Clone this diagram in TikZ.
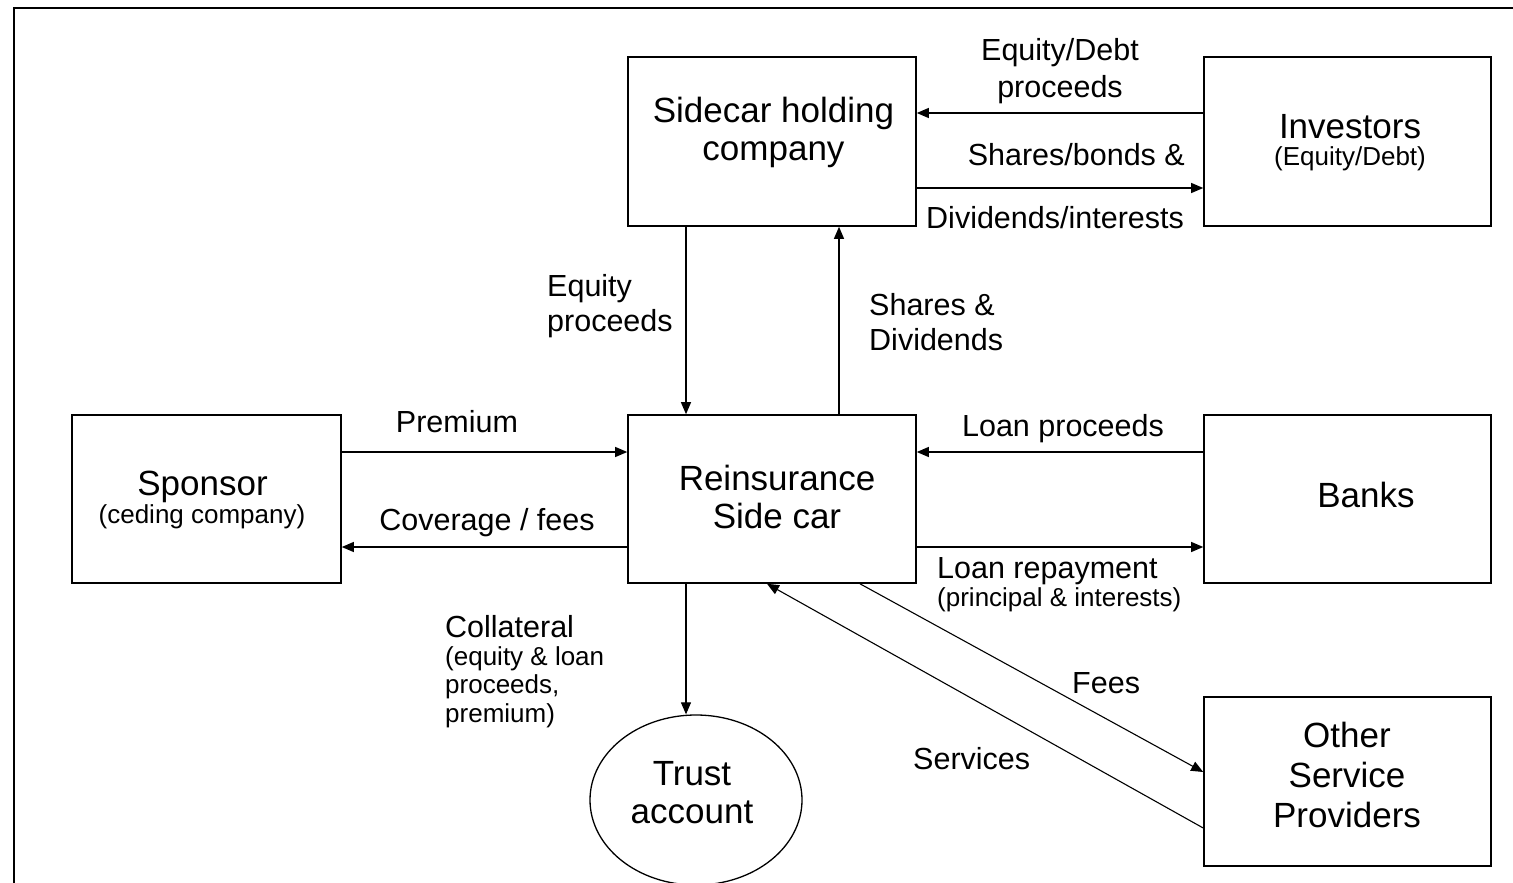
\documentclass[tikz,border=0pt]{standalone}
\usepackage{fontspec}
\setmainfont{Liberation Sans}
\usetikzlibrary{arrows.meta,shapes.geometric}
\newcommand\mylines[2]{\begin{tabular}[t]{@{}#1@{}}#2\end{tabular}}
\begin{document}
\begin{tikzpicture}[x=1pt,y=-1pt,
  box/.style={draw,line width=1.6pt,inner sep=0pt},
  big/.style={font=\fontsize{35}{38}\selectfont},
  lab/.style={font=\fontsize{30.5}{35}\selectfont},
  sub/.style={font=\fontsize{26}{28.5}\selectfont},
  txt/.style={inner sep=0pt,anchor=base},
  arr/.style={line width=1.1pt,-{Triangle[length=12pt,width=10pt]}}]
\useasboundingbox (0,0) rectangle (1513,883);
% frame
\draw[line width=2.5pt] (1513,8) -- (14,8) -- (14,883);
% boxes
\node[box,minimum width=288pt,minimum height=169pt] (side) at (772,141.5) {};
\node[box,minimum width=288pt,minimum height=168pt] (rs) at (772,499) {};
\node[box,minimum width=269pt,minimum height=168pt] (sp) at (206.5,499) {};
\node[box,minimum width=287pt,minimum height=169pt] (inv) at (1347.5,141.5) {};
\node[box,minimum width=287pt,minimum height=168pt] (bk) at (1347.5,499) {};
\node[box,minimum width=287pt,minimum height=169pt] (osp) at (1347.5,781.5) {};
\node[draw,ellipse,line width=1.3pt,inner sep=0pt,minimum width=212pt,minimum height=170pt] (tr) at (696,800) {};
% box texts
\node[txt,big] (side-t) at (773.5,122) {\mylines{c}{Sidecar holding\\company}};
\node[txt,big] (rs-t) at (777,490) {\mylines{c}{Reinsurance\\Side car}};
\node[txt,big] (sp-t) at (202.5,495) {Sponsor};
\node[txt,sub] (sp-s) at (202,523) {(ceding company)};
\node[txt,big] (inv-t) at (1350,138) {Investors};
\node[txt,sub] (inv-s) at (1350,165) {(Equity/Debt)};
\node[txt,big] (bk-t) at (1366,507) {Banks};
\node[txt,font=\fontsize{35}{40}\selectfont] (osp-t) at (1347,747) {\mylines{c}{Other\\Service\\Providers}};
\node[txt,big] (tr-t) at (692,785) {\mylines{c}{Trust\\account}};
% connectors
\draw[arr] (inv.west |- 0,113) -- (side.east |- 0,113);
\draw[arr] (side.east |- 0,188) -- (inv.west |- 0,188);
\draw[arr] (side.south -| 686,0) -- (rs.north -| 686,0);
\draw[arr] (rs.north -| 839,0) -- (side.south -| 839,0);
\draw[arr] (sp.east |- 0,452) -- (rs.west |- 0,452);
\draw[arr] (rs.west |- 0,547) -- (sp.east |- 0,547);
\draw[arr] (bk.west |- 0,452) -- (rs.east |- 0,452);
\draw[arr] (rs.east |- 0,547) -- (bk.west |- 0,547);
\draw[arr] (rs.south -| 686,0) -- (tr.north -| 686,0);
\draw[arr] (rs.south -| 860,0) -- (osp.west |- 0,772);
\draw[arr] (osp.west |- 0,828) -- (rs.south -| 767,0);
% labels
\node[txt,lab,font=\fontsize{30.5}{36}\selectfont] (l1) at (1060,61) {\mylines{c}{Equity/Debt\\proceeds}};
\node[txt,lab,anchor=base east] (l2) at (1185,165) {Shares/bonds \&};
\node[txt,lab,anchor=base west] (l3) at (926,228) {Dividends/interests};
\node[txt,lab,anchor=base west] (l4) at (547,296) {\mylines{l}{Equity\\proceeds}};
\node[txt,lab,anchor=base west] (l5) at (869,315) {\mylines{l}{Shares \&\\Dividends}};
\node[txt,lab] (l6) at (457,432) {Premium};
\node[txt,lab] (l7) at (487,530) {Coverage / fees};
\node[txt,lab] (l8) at (1063,436) {Loan proceeds};
\node[txt,lab,anchor=base west] (l9) at (937,578) {Loan repayment};
\node[txt,sub,anchor=base west] (l9s) at (937,606) {(principal \& interests)};
\node[txt,lab,anchor=base west] (l10) at (445,637) {Collateral};
\node[txt,sub,anchor=base west] (l10s) at (445,665) {\mylines{l}{(equity \& loan\\proceeds,\\premium)}};
\node[txt,lab,anchor=base west] (l11) at (1072,693) {Fees};
\node[txt,lab,anchor=base west] (l12) at (913,769) {Services};
\end{tikzpicture}
\end{document}
